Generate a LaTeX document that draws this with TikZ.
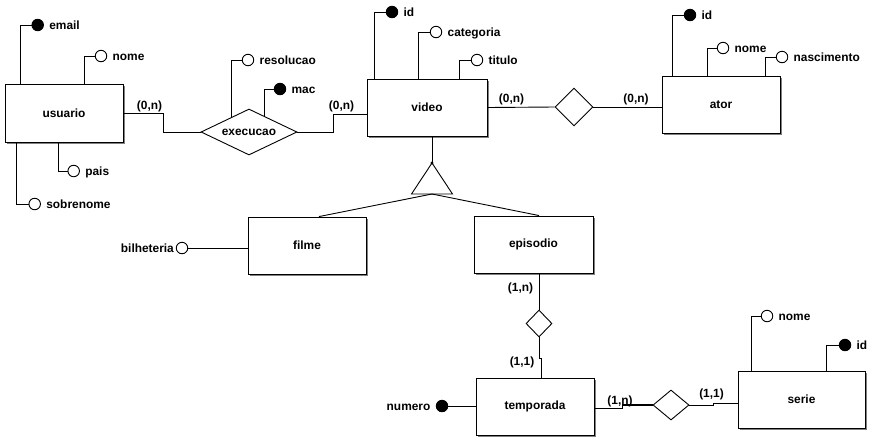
\documentclass[tikz,border=0pt]{standalone}
\usepackage{fontspec}
\setmainfont{Liberation Sans}
\usetikzlibrary{shapes.geometric,shadows,positioning,calc}
\begin{document}
\begin{tikzpicture}[x=1pt,y=-1pt,line width=0.9pt,
  every node/.style={font=\fontsize{11.9}{13}\selectfont\bfseries},
  entity/.style={draw,fill=white,rectangle,inner sep=0pt,minimum height=57pt,
    general shadow={fill=black!50,shadow xshift=2.2pt,shadow yshift=-2.2pt}},
  attr/.style={draw,circle,fill=white,inner sep=0pt,minimum size=11.5pt},
  keyattr/.style={attr,fill=black},
  lbl/.style={inner sep=0pt,text height=9pt,text depth=0pt},
  card/.style={inner sep=0pt},
  rel/.style={draw,diamond,fill=white,inner sep=0pt},
]
\useasboundingbox[fill=white] (0,0) rectangle (875,440);

% entities
\node[entity,minimum width=118pt,minimum height=58pt] (usuario) at (64,113) {usuario};
\node[entity,minimum width=120pt] (video) at (427,107.5) {video};
\node[entity,minimum width=118pt] (ator) at (721,104.5) {ator};
\node[entity,minimum width=118pt] (filme) at (307,245.5) {filme};
\node[entity,minimum width=119pt] (episodio) at (533.5,244.5) {episodio};
\node[entity,minimum width=118pt] (temporada) at (535,406.5) {temporada};
\node[entity,minimum width=127pt] (serie) at (801.5,399.5) {serie};

% relationships
\node[rel,aspect=2.09,minimum width=96pt,minimum height=46pt] (exec) at (249,132) {execucao};
\node[rel,minimum width=38pt,minimum height=38pt] (r1) at (574,107) {};
\node[rel,minimum width=26pt,minimum height=27pt] (r2) at (539,323.5) {};
\node[rel,minimum width=36pt,minimum height=30pt] (r3) at (671,405) {};

% attributes of usuario
\node[keyattr] (uemail) at (37.7,25) {};
\node[lbl,right=5pt of uemail] (uemailL) {email};
\draw ([xshift=16pt]usuario.north west) |- (uemail);
\node[attr] (unome) at (101,56) {};
\node[lbl,right=5pt of unome] (unomeL) {nome};
\draw ([xshift=80pt]usuario.north west) |- (unome);
\node[attr] (upais) at (73.7,171) {};
\node[lbl,right=5pt of upais] (upaisL) {pais};
\draw ([xshift=53.7pt]usuario.south west) |- (upais);
\node[attr] (usobre) at (34.7,204) {};
\node[lbl,right=5pt of usobre] (usobreL) {sobrenome};
\draw ([xshift=12.3pt]usuario.south west) |- (usobre);

% attributes of execucao
\node[attr] (eres) at (248,60) {};
\node[lbl,right=5pt of eres] (eresL) {resolucao};
\draw ($(exec.north)!0.354!(exec.west)$) |- (eres);
\node[keyattr] (emac) at (280,89) {};
\node[lbl,right=5pt of emac] (emacL) {mac};
\draw ($(exec.north)!0.3125!(exec.east)$) |- (emac);

% attributes of video
\node[keyattr] (vid) at (392,12) {};
\node[lbl,right=5pt of vid] (vidL) {id};
\draw ([xshift=8pt]video.north west) |- (vid);
\node[attr] (vcat) at (436,32) {};
\node[lbl,right=5pt of vcat] (vcatL) {categoria};
\draw ([xshift=52pt]video.north west) |- (vcat);
\node[attr] (vtit) at (477,60) {};
\node[lbl,right=5pt of vtit] (vtitL) {titulo};
\draw ([xshift=93pt]video.north west) |- (vtit);

% attributes of ator
\node[keyattr] (aid) at (690,15) {};
\node[lbl,right=5pt of aid] (aidL) {id};
\draw ([xshift=11pt]ator.north west) |- (aid);
\node[attr] (anome) at (723,48) {};
\node[lbl,right=5pt of anome] (anomeL) {nome};
\draw ([xshift=46pt]ator.north west) |- (anome);
\node[attr] (anasc) at (782,57) {};
\node[lbl,right=5pt of anasc] (anascL) {nascimento};
\draw ([xshift=104pt]ator.north west) |- (anasc);

% attribute of filme
\node[attr] (fbil) at (182,248) {};
\node[lbl,left=1.5pt of fbil] (fbilL) {bilheteria};
\draw (fbil) -- (fbil -| filme.west);

% attribute of temporada
\node[keyattr] (tnum) at (442,406) {};
\node[lbl,left=5pt of tnum] (tnumL) {numero};
\draw (tnum) -- (tnum -| temporada.west);

% attributes of serie
\node[attr] (snome) at (767,316) {};
\node[lbl,right=5pt of snome] (snomeL) {nome};
\draw ([xshift=14pt]serie.north west) |- (snome);
\node[keyattr] (sid) at (845,345) {};
\node[lbl,right=5pt of sid] (sidL) {id};
\draw ([xshift=89pt]serie.north west) |- (sid);

% relationship connectors
\draw (usuario.east) -- ++(40,0) |- (exec.west);
\draw (exec.east) -- ++(36,0) |- ([yshift=-6.5pt]video.west);
\draw (video.east) -- (r1.west);
\draw (r1.east) -- (r1.east -| ator.west);
\draw (r2.north) -- (r2.north |- episodio.south);
\draw (r2.south) -- ++(0,21) -- ++(2,0) -- ([xshift=6pt]temporada.north);
\draw[line width=1.6pt] ([yshift=-2pt]temporada.east) -- ++(28,0) |- (r3.west);
\draw (r3.east) -- ++(24,0) |- ([yshift=-3.5pt]serie.west);

% cardinalities
\node[card] (c1) at (149.5,106) {(0,n)};
\node[card] (c2) at (341.5,106) {(0,n)};
\node[card] (c3) at (511.5,99) {(0,n)};
\node[card] (c4) at (636,99) {(0,n)};
\node[card] (c5) at (520.5,288.5) {(1,n)};
\node[card] (c6) at (522,362) {(1,1)};
\node[card] (c7) at (620,401) {(1,n)};
\node[card] (c8) at (711.5,394) {(1,1)};

% generalization
\coordinate (gapex) at (432,163);
\coordinate (gbase) at (432,194);
\draw (gapex |- video.south) -- (gapex);
\draw (gapex) -- ++(-20.5,31) -- ++(41,0) -- cycle;
\fill (gapex) circle (1.6pt);
\draw (gbase) -- ([xshift=12pt]filme.north);
\draw (gbase) -- ([xshift=5.5pt]episodio.north);
\end{tikzpicture}
\end{document}
